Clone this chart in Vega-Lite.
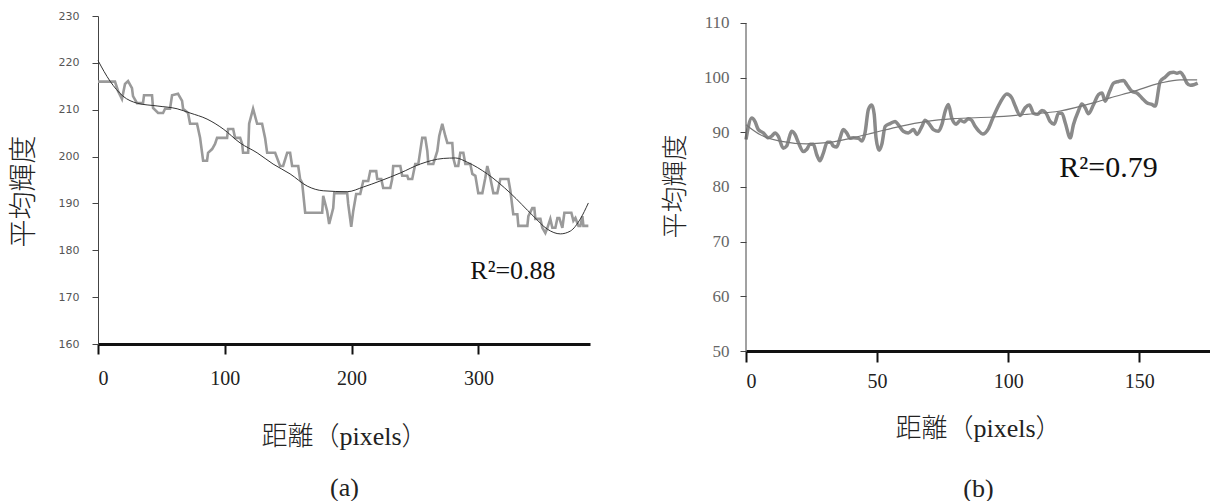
{
  "$schema": "https://vega.github.io/schema/vega-lite/v6.json",
  "padding": {"left": 10, "top": 10, "right": 0, "bottom": 0},
  "background": "white",
  "config": {"view": {"stroke": null}, "axis": {"grid": false}, "concat": {"spacing": 68}},
  "datasets": {
    "a_raw": [
      {"x":0,"y":216},{"x":13.4,"y":216},{"x":15.8,"y":214},{"x":18.9,"y":212.3},{"x":21.3,"y":215.5},{"x":23.7,"y":216.1},{"x":26.8,"y":214.6},{"x":27.6,"y":212.9},{"x":30.8,"y":211.4},{"x":35.5,"y":211.4},{"x":36.3,"y":213.1},{"x":42.6,"y":213.1},{"x":43.4,"y":210.4},{"x":47.4,"y":209.3},{"x":51.3,"y":209.3},{"x":52.9,"y":210.2},{"x":56.8,"y":210.2},{"x":58.4,"y":213.1},{"x":63.1,"y":213.4},{"x":66.3,"y":211.9},{"x":67.1,"y":210.2},{"x":71,"y":209.3},{"x":72.6,"y":207},{"x":78.1,"y":207},{"x":80.5,"y":204},{"x":82.9,"y":199.1},{"x":86,"y":199.1},{"x":86.8,"y":200.8},{"x":90,"y":201.6},{"x":92.3,"y":202.7},{"x":93.9,"y":204},{"x":101.8,"y":204},{"x":102.6,"y":205.9},{"x":106.6,"y":205.9},{"x":108.1,"y":204},{"x":112.1,"y":204},{"x":113.7,"y":202.7},{"x":114.4,"y":200.8},{"x":118.4,"y":200.8},{"x":119.2,"y":207},{"x":122.3,"y":210.2},{"x":125.5,"y":207},{"x":129.4,"y":207},{"x":131.8,"y":203.9},{"x":133.4,"y":200.8},{"x":139.7,"y":200.8},{"x":143.6,"y":198},{"x":146,"y":198},{"x":149.2,"y":200.8},{"x":151.5,"y":200.8},{"x":153.1,"y":198},{"x":157.9,"y":198},{"x":159.4,"y":195.2},{"x":161,"y":194.4},{"x":163.4,"y":188},{"x":165,"y":188},{"x":176.8,"y":188},{"x":177.6,"y":191.6},{"x":180.7,"y":188.4},{"x":182.3,"y":185.6},{"x":185.5,"y":189},{"x":186.3,"y":192.2},{"x":196.5,"y":192.2},{"x":197.3,"y":189.9},{"x":199.7,"y":185},{"x":201.3,"y":188.4},{"x":203.6,"y":192},{"x":206.8,"y":192},{"x":209.2,"y":194.8},{"x":213.1,"y":194.8},{"x":214.7,"y":196.9},{"x":219.4,"y":196.9},{"x":220.2,"y":195.2},{"x":223.4,"y":195.2},{"x":224.9,"y":193.3},{"x":230.5,"y":193.3},{"x":232,"y":195.2},{"x":232.8,"y":198},{"x":238.4,"y":198},{"x":239.9,"y":195.9},{"x":243.9,"y":195.9},{"x":244.7,"y":195.2},{"x":247.8,"y":195.2},{"x":250.2,"y":198.4},{"x":252.6,"y":198.4},{"x":255.7,"y":204},{"x":258.1,"y":204},{"x":259.7,"y":201.2},{"x":260.5,"y":198.4},{"x":264.4,"y":198.4},{"x":267.6,"y":201.2},{"x":269.1,"y":204.4},{"x":271.5,"y":207},{"x":273.9,"y":204.4},{"x":275.5,"y":202.9},{"x":279.4,"y":202.9},{"x":280.2,"y":199.7},{"x":281.8,"y":198},{"x":284.1,"y":198},{"x":285.7,"y":200.8},{"x":288.1,"y":200.8},{"x":289.7,"y":198.4},{"x":293.6,"y":198.4},{"x":295.2,"y":196.3},{"x":297.6,"y":195.9},{"x":299.9,"y":192.2},{"x":303.1,"y":192.2},{"x":305.4,"y":195.4},{"x":307,"y":198},{"x":309.4,"y":195.4},{"x":311.8,"y":192.2},{"x":314.9,"y":192.2},{"x":317.3,"y":195.2},{"x":323.6,"y":195.2},{"x":325.2,"y":192.7},{"x":327.5,"y":187.7},{"x":330.7,"y":187.7},{"x":331.5,"y":185.2},{"x":338.6,"y":185.2},{"x":339.4,"y":187.3},{"x":342.5,"y":189},{"x":344.1,"y":189},{"x":344.9,"y":186.7},{"x":348.9,"y":186.7},{"x":350.4,"y":184.8},{"x":352.8,"y":183.7},{"x":354.4,"y":184.8},{"x":356.7,"y":186.7},{"x":358.3,"y":184.8},{"x":360.7,"y":184.8},{"x":362.3,"y":186.9},{"x":363.8,"y":186.9},{"x":366.2,"y":184.8},{"x":367.8,"y":188},{"x":373.3,"y":188},{"x":374.9,"y":186.3},{"x":376.5,"y":186.9},{"x":378.9,"y":185.2},{"x":380.4,"y":185.2},{"x":382,"y":187.3},{"x":382.8,"y":185.2},{"x":386.7,"y":185.2}
    ],
    "a_fit": [
      {"x":0,"y":220.5},{"x":9.5,"y":216.1},{"x":19.7,"y":212.9},{"x":30.8,"y":211.4},{"x":46.6,"y":210.8},{"x":62.4,"y":210.2},{"x":72.6,"y":209.3},{"x":86,"y":208},{"x":98.7,"y":205.9},{"x":112.1,"y":202.9},{"x":125.5,"y":200.8},{"x":138.1,"y":198.4},{"x":151.5,"y":196.3},{"x":165,"y":193.7},{"x":177.6,"y":192.7},{"x":196.5,"y":192.5},{"x":209.2,"y":193.5},{"x":222.6,"y":194.8},{"x":238.4,"y":196.5},{"x":254.1,"y":198.4},{"x":272.3,"y":199.6},{"x":282,"y":199.7},{"x":291.2,"y":198.8},{"x":307,"y":196.3},{"x":325.2,"y":192.2},{"x":343.3,"y":187.3},{"x":354.4,"y":184.5},{"x":364.6,"y":183.5},{"x":372.5,"y":184.1},{"x":380.4,"y":186.7},{"x":386.7,"y":190.1}
    ],
    "b_raw": [
      {"x":0,"y":88.7},{"x":2.2,"y":92.6},{"x":3.4,"y":92},{"x":4.7,"y":90.5},{"x":6.6,"y":89.9},{"x":8.5,"y":89},{"x":9.8,"y":89.3},{"x":11.1,"y":89.9},{"x":12.3,"y":89.3},{"x":14.2,"y":87.1},{"x":15.5,"y":87.5},{"x":17.4,"y":90.2},{"x":18.7,"y":89.6},{"x":20,"y":88.1},{"x":21.9,"y":86.5},{"x":23.2,"y":86.9},{"x":24.4,"y":87.8},{"x":25.7,"y":87.8},{"x":27,"y":85.9},{"x":28.2,"y":84.8},{"x":29.5,"y":86.2},{"x":31,"y":88.2},{"x":32.3,"y":88.2},{"x":33.3,"y":87.5},{"x":34.6,"y":87.3},{"x":35.9,"y":89},{"x":37.1,"y":90.5},{"x":38.4,"y":89.9},{"x":39.7,"y":88.9},{"x":41,"y":89},{"x":42.9,"y":88.9},{"x":44.2,"y":88.4},{"x":45.4,"y":89.9},{"x":46.7,"y":94.2},{"x":48,"y":95},{"x":48.9,"y":93.3},{"x":49.6,"y":89},{"x":50.8,"y":86.7},{"x":51.8,"y":87.8},{"x":53.1,"y":91.1},{"x":55,"y":91.6},{"x":56.9,"y":92},{"x":58.1,"y":91.4},{"x":60,"y":90.2},{"x":61.9,"y":89.9},{"x":63.9,"y":90.5},{"x":65.2,"y":89.6},{"x":67.1,"y":91.1},{"x":68.3,"y":92.2},{"x":69.6,"y":91.7},{"x":71.5,"y":90.5},{"x":73.4,"y":90.2},{"x":74.7,"y":91.4},{"x":76,"y":93.9},{"x":77.2,"y":95.1},{"x":78.5,"y":92.6},{"x":80.2,"y":91.5},{"x":81.7,"y":92.2},{"x":83.2,"y":91.9},{"x":84.8,"y":92.5},{"x":86.1,"y":92.2},{"x":87.4,"y":91.1},{"x":88.7,"y":90.3},{"x":90.3,"y":89.7},{"x":92.5,"y":90.7},{"x":94.4,"y":92.9},{"x":96.9,"y":95.4},{"x":99.5,"y":97},{"x":101.4,"y":96.3},{"x":102.7,"y":94.8},{"x":104.6,"y":93.1},{"x":106.5,"y":94.5},{"x":108.1,"y":95},{"x":109.7,"y":93.5},{"x":111.2,"y":93.3},{"x":112.9,"y":94},{"x":114.5,"y":93.5},{"x":116,"y":92},{"x":117.6,"y":91.5},{"x":119.2,"y":93.5},{"x":120.5,"y":93.5},{"x":121.8,"y":91.7},{"x":123.7,"y":89},{"x":124.9,"y":91.4},{"x":126.8,"y":93.9},{"x":128.1,"y":95.2},{"x":129.4,"y":94.5},{"x":130.6,"y":93.4},{"x":132.6,"y":95.1},{"x":134.5,"y":96.9},{"x":135.8,"y":97.2},{"x":137,"y":95.7},{"x":138.7,"y":97.5},{"x":140.2,"y":99},{"x":142.1,"y":99.3},{"x":144,"y":99.5},{"x":145.3,"y":98.7},{"x":147.2,"y":97.5},{"x":149.1,"y":97.2},{"x":151,"y":96.3},{"x":152.9,"y":95.4},{"x":154.8,"y":95.1},{"x":156.1,"y":94.8},{"x":158,"y":99.3},{"x":159.9,"y":100.1},{"x":161.8,"y":100.9},{"x":163.1,"y":101},{"x":164.4,"y":100.8},{"x":165.6,"y":101},{"x":166.9,"y":100.3},{"x":168.2,"y":99},{"x":169.5,"y":98.6},{"x":170.8,"y":98.7},{"x":172.3,"y":99}
    ],
    "b_fit": [
      {"x":0,"y":91.4},{"x":5.3,"y":89.6},{"x":13,"y":88.4},{"x":23.2,"y":87.9},{"x":30.8,"y":88.1},{"x":39.7,"y":88.9},{"x":48.6,"y":89.9},{"x":58.8,"y":91.1},{"x":69,"y":92},{"x":79.1,"y":92.5},{"x":94.4,"y":92.8},{"x":107.1,"y":93.3},{"x":119.8,"y":93.9},{"x":132.6,"y":95.4},{"x":138.9,"y":96.3},{"x":147.8,"y":97.5},{"x":158,"y":99},{"x":165.6,"y":99.6},{"x":172.1,"y":99.6}
    ],
    "b_axis": [{"x":0,"y":50,"y2":110}],
    "a_label": [{"x":293.6,"y":175.6,"label":"R²=0.88"}],
    "b_label": [{"x":119.5,"y":83.4,"label":"R²=0.79"}]
  },
  "hconcat": [
    {
      "width": 492,
      "height": 328,
      "layer": [
        {
          "data": {"name": "a_raw"},
          "mark": {"type": "line", "color": "#9a9a9a", "strokeWidth": 2.6},
          "encoding": {
            "x": {"field": "x", "type": "quantitative",
              "scale": {"domain": [0, 388], "nice": false, "zero": false},
              "axis": {"title": ["距離（pixels）", "(a)"], "values": [0, 100, 200, 300], "format": "d",
                "domainColor": "#111", "domainWidth": 3, "tickColor": "#111", "tickWidth": 2, "tickSize": 10,
                "labelFont": "Liberation Serif", "labelFontSize": 20, "labelColor": "#222", "labelPadding": 14,
                "titleFont": "Liberation Serif, Noto Sans CJK JP", "titleFontSize": 26, "titleFontWeight": 300,
                "titleColor": "#222", "titlePadding": 34, "titleLineHeight": 51, "minExtent": 45, "maxExtent": 45}},
            "y": {"field": "y", "type": "quantitative",
              "scale": {"domain": [160, 230], "nice": false, "zero": false},
              "axis": {"title": "平均輝度", "values": [160, 170, 180, 190, 200, 210, 220, 230],
                "domainColor": "#444", "tickColor": "#444", "tickSize": 6,
                "labelFont": "DejaVu Sans", "labelFontSize": 11, "labelColor": "#555", "labelPadding": 13,
                "titleFont": "Noto Sans CJK JP", "titleFontSize": 28, "titleFontWeight": 300, "titleColor": "#222",
                "titlePadding": 10, "minExtent": 50, "maxExtent": 50, "titleY": 175}}
          }
        },
        {
          "data": {"name": "a_fit"},
          "mark": {"type": "line", "color": "#333333", "strokeWidth": 1, "interpolate": "monotone"},
          "encoding": {"x": {"field": "x", "type": "quantitative"}, "y": {"field": "y", "type": "quantitative"}}
        },
        {
          "data": {"name": "a_label"},
          "mark": {"type": "text", "align": "left", "baseline": "middle", "font": "Liberation Serif", "fontSize": 26, "color": "#111"},
          "encoding": {"x": {"field": "x", "type": "quantitative"}, "y": {"field": "y", "type": "quantitative"}, "text": {"field": "label"}}
        }
      ]
    },
    {
      "width": 464,
      "height": 335,
      "layer": [
        {
          "data": {"name": "b_raw"},
          "mark": {"type": "line", "color": "#8a8a8a", "strokeWidth": 3.5, "interpolate": "monotone"},
          "encoding": {
            "x": {"field": "x", "type": "quantitative",
              "scale": {"domain": [0, 177], "nice": false, "zero": false},
              "axis": {"title": ["距離（pixels）", "(b)"], "values": [0, 50, 100, 150], "format": "d",
                "domainColor": "#111", "domainWidth": 3, "tickColor": "#111", "tickWidth": 2, "tickSize": 11,
                "labelFont": "Liberation Serif", "labelFontSize": 20, "labelColor": "#222", "labelPadding": 9,
                "titleFont": "Liberation Serif, Noto Sans CJK JP", "titleFontSize": 26, "titleFontWeight": 300,
                "titleColor": "#222", "titlePadding": 19, "titleLineHeight": 60, "minExtent": 45, "maxExtent": 45}},
            "y": {"field": "y", "type": "quantitative",
              "scale": {"domain": [50, 111.28], "nice": false, "zero": false},
              "axis": {"title": "平均輝度", "values": [50, 60, 70, 80, 90, 100, 110], "domain": false,
                "tickColor": "#444", "tickSize": 6,
                "labelFont": "Liberation Serif", "labelFontSize": 17, "labelColor": "#666", "labelPadding": 11,
                "titleFont": "Noto Sans CJK JP", "titleFontSize": 26, "titleFontWeight": 300, "titleColor": "#222",
                "titlePadding": 8, "minExtent": 50, "maxExtent": 50, "titleY": 170}}
          }
        },
        {
          "data": {"name": "b_axis"},
          "mark": {"type": "rule", "color": "#444", "strokeWidth": 1},
          "encoding": {"x": {"field": "x", "type": "quantitative"}, "y": {"field": "y", "type": "quantitative"}, "y2": {"field": "y2"}}
        },
        {
          "data": {"name": "b_fit"},
          "mark": {"type": "line", "color": "#777777", "strokeWidth": 1.2, "interpolate": "monotone"},
          "encoding": {"x": {"field": "x", "type": "quantitative"}, "y": {"field": "y", "type": "quantitative"}}
        },
        {
          "data": {"name": "b_label"},
          "mark": {"type": "text", "align": "left", "baseline": "middle", "font": "Liberation Serif", "fontSize": 30, "color": "#111"},
          "encoding": {"x": {"field": "x", "type": "quantitative"}, "y": {"field": "y", "type": "quantitative"}, "text": {"field": "label"}}
        }
      ]
    }
  ]
}
